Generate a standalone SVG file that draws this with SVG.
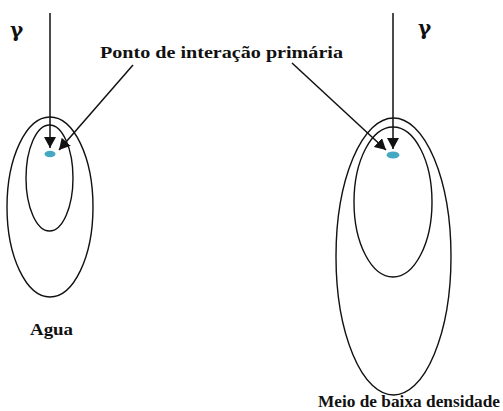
<svg xmlns="http://www.w3.org/2000/svg" width="503" height="411" viewBox="0 0 503 411">
<style>
.ring{fill:none;stroke:#111;stroke-width:1.4}
.dot{fill:#44a8c2}
.arr{fill:none;stroke:#111;stroke-width:1.5}
.lbl{font-family:"Liberation Serif","Times New Roman",serif;font-weight:bold;font-size:16px;fill:#111}
.g{font-family:"DejaVu Serif",serif;font-weight:bold;font-size:20px;fill:#111}
</style>
<defs>
<marker id="ah" markerUnits="userSpaceOnUse" markerWidth="12" markerHeight="12" viewBox="0 0 12 12" refX="11" refY="6" orient="auto">
<path d="M0,0 L11,6 L0,12 Z" fill="#111"/>
</marker>
</defs>
<g id="water">
<ellipse class="ring" cx="50" cy="207" rx="43" ry="90"/>
<ellipse class="ring" cx="49.5" cy="178" rx="23.5" ry="53"/>
<ellipse class="dot" cx="50" cy="154" rx="5.5" ry="3.2"/>
<text class="lbl" x="30" y="335" textLength="43" lengthAdjust="spacingAndGlyphs">Agua</text>
<text class="g" x="10" y="37">γ</text>
</g>
<g id="lowdensity">
<ellipse class="ring" cx="393.5" cy="256.5" rx="57.5" ry="138.5"/>
<ellipse class="ring" cx="393" cy="202" rx="39" ry="75"/>
<ellipse class="dot" cx="393" cy="155" rx="6.5" ry="3.5"/>
<text class="lbl" x="318" y="407" textLength="182" lengthAdjust="spacingAndGlyphs">Meio de baixa densidade</text>
<text class="g" x="418" y="35">γ</text>
</g>
<g id="label">
<text class="lbl" x="100" y="58" textLength="243" lengthAdjust="spacingAndGlyphs">Ponto de interação primária</text>
</g>
<g id="connectors">
<line class="arr" x1="50" y1="13" x2="50" y2="148" marker-end="url(#ah)"/>
<line class="arr" x1="393" y1="13" x2="393" y2="149" marker-end="url(#ah)"/>
<line class="arr" x1="133" y1="65" x2="59" y2="150" marker-end="url(#ah)"/>
<line class="arr" x1="292" y1="63" x2="386" y2="150" marker-end="url(#ah)"/>
</g>
</svg>
